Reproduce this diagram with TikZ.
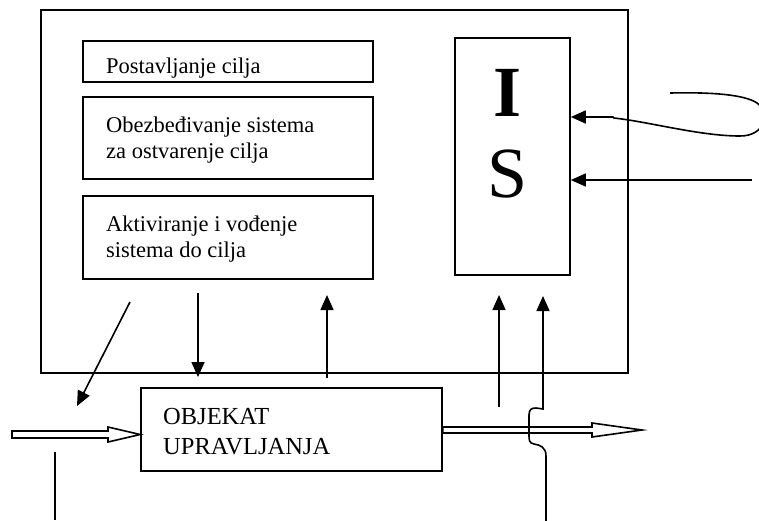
\documentclass[tikz,border=0pt]{standalone}
\usepackage{fontspec}
\setmainfont{Liberation Serif}
\usetikzlibrary{arrows.meta,calc}

\tikzset{
  frame/.style={draw, line width=1.6pt, inner sep=0pt},
  blocktext/.style={inner sep=0pt, align=left, anchor=base west,
    font=\fontsize{22.5}{26}\selectfont},
  objtext/.style={inner sep=0pt, align=left, anchor=base west,
    font=\fontsize{24.5}{30}\selectfont},
  bigletter/.style={inner sep=0pt, font=\fontsize{72}{72}\selectfont},
  conn/.style={line width=1.6pt},
  arr/.style={conn, -{Triangle[length=15pt,width=13pt]}},
  hollow/.style={draw, line width=1.6pt, fill=white, line join=miter},
}

\begin{document}
\begin{tikzpicture}[x=1pt, y=-1pt]
  \useasboundingbox (0,0) rectangle (759,520);
  \clip (0,0) rectangle (759,520);

  % control system and its three functions
  \node[frame, minimum width=587pt, minimum height=363pt] (ctrl) at (334.5,191.5) {};
  \node[frame, minimum width=290pt, minimum height=41pt] (goal) at (228,61.5) {};
  \node[frame, minimum width=290pt, minimum height=82pt] (prov) at (228,138) {};
  \node[frame, minimum width=290pt, minimum height=83pt] (act) at (228,237.5) {};
  % base anchor of a two-line label sits on its last line
  \node[blocktext] (goaltxt) at (106,73) {Postavljanje cilja};
  \node[blocktext] (provtxt) at (106,158) {Obezbeđivanje sistema\\za ostvarenje cilja};
  \node[blocktext] (acttxt) at (106,257) {Aktiviranje i vođenje\\sistema do cilja};

  % information system
  \node[frame, minimum width=115pt, minimum height=237pt] (is) at (512.5,156.5) {};
  \node[bigletter] (isI) at (508,93) {\bfseries I};
  \node[bigletter] (isS) at (508,174) {S};

  % controlled object
  \node[frame, minimum width=301pt, minimum height=83pt] (obj) at (291.5,429.5) {};
  \node[objtext] (objtxt) at (163,454) {OBJEKAT\\UPRAVLJANJA};

  % input and output flows (hollow arrows)
  \draw[hollow] (12,431) -- (108,431) -- (108,427) -- (obj.west |- 0,434.5)
    -- (108,442) -- (108,438) -- (12,438) -- cycle;
  \draw[hollow] (obj.east |- 0,427) -- (592,427) -- (592,423) -- (642,430)
    -- (592,437) -- (592,433) -- (obj.east |- 0,433) -- cycle;

  % control and feedback links
  \coordinate (dgA) at (130,302);
  \coordinate (dgB) at (77,406);
  \draw[arr] (dgA) -- (dgB);
  \coordinate (cmdA) at (198,293);
  \coordinate (cmdB) at (198,377);
  \draw[arr] (cmdA) -- (cmdB);
  \coordinate (fbA) at (327,378);
  \coordinate (fbB) at (327,295);
  \draw[arr] (fbA) -- (fbB);
  \coordinate (inLine) at (55,452);
  \draw[conn] (inLine) -- (55,520);

  % measurements into the information system
  \coordinate (m1A) at (499,407);
  \coordinate (m1B) at (499,295);
  \draw[arr] (m1A) -- (m1B);
  \coordinate (m2B) at (543,296);
  \draw[arr] (546,522) -- (546,456)
    .. controls (546,447) and (540,445) .. (534,444)
    .. controls (529,443) and (529,440) .. (529,435)
    -- (529,415)
    .. controls (529,409) and (532,408) .. (536,408)
    -- (543,409) -- (m2B);

  % external information
  \coordinate (loopStart) at (670,93);
  \coordinate (kink) at (613,117);
  \draw[arr] (loopStart) .. controls (715,92) and (745,95) .. (757,103)
    .. controls (770,112) and (766,136) .. (740,136)
    .. controls (700,136) and (650,122) .. (614,118)
    -- (kink) -- (kink -| is.east);
  \coordinate (extB) at (752,180);
  \draw[arr] (extB) -- (extB -| is.east);
\end{tikzpicture}
\end{document}
